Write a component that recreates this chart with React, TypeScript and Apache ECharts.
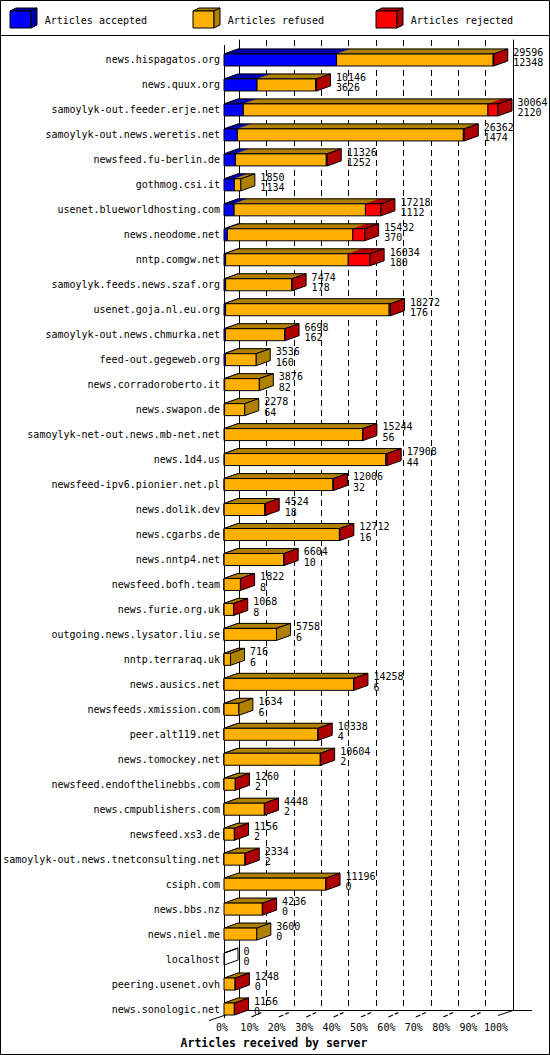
import React, { useEffect, useRef } from 'react';
import * as echarts from 'echarts';

const HOSTS = [
  'news.hispagatos.org', 'news.quux.org', 'samoylyk-out.feeder.erje.net', 'samoylyk-out.news.weretis.net',
  'newsfeed.fu-berlin.de', 'gothmog.csi.it', 'usenet.blueworldhosting.com', 'news.neodome.net',
  'nntp.comgw.net', 'samoylyk.feeds.news.szaf.org', 'usenet.goja.nl.eu.org', 'samoylyk-out.news.chmurka.net',
  'feed-out.gegeweb.org', 'news.corradoroberto.it', 'news.swapon.de', 'samoylyk-net-out.news.mb-net.net',
  'news.1d4.us', 'newsfeed-ipv6.pionier.net.pl', 'news.dolik.dev', 'news.cgarbs.de',
  'news.nntp4.net', 'newsfeed.bofh.team', 'news.furie.org.uk', 'outgoing.news.lysator.liu.se',
  'nntp.terraraq.uk', 'news.ausics.net', 'newsfeeds.xmission.com', 'peer.alt119.net',
  'news.tomockey.net', 'newsfeed.endofthelinebbs.com', 'news.cmpublishers.com', 'newsfeed.xs3.de',
  'samoylyk-out.news.tnetconsulting.net', 'csiph.com', 'news.bbs.nz', 'news.niel.me',
  'localhost', 'peering.usenet.ovh', 'news.sonologic.net',
];

// total articles offered (upper label)
const OFFERED = [
  29596, 10146, 30064, 26362, 11326, 1850, 17218, 15432, 16034, 7474, 18272, 6698, 3536, 3876, 2278, 15244,
  17908, 12006, 4524, 12712, 6604, 1822, 1068, 5758, 716, 14258, 1634, 10338, 10604, 1260, 4448, 1156,
  2334, 11196, 4236, 3600, 0, 1248, 1156,
];

// articles accepted (lower label)
const ACCEPTED = [
  12348, 3626, 2120, 1474, 1252, 1134, 1112, 370, 180, 178, 176, 162, 160, 82, 64, 56,
  44, 32, 18, 16, 10, 8, 8, 6, 6, 6, 6, 4, 2, 2, 2, 2,
  2, 0, 0, 0, 0, 0, 0,
];

// articles rejected (estimated from the bars)
const REJECTED = [
  60, 100, 1100, 100, 100, 0, 1700, 1300, 2400, 50, 150, 50, 0, 0, 0, 50,
  150, 50, 30, 50, 30, 20, 20, 0, 0, 50, 0, 40, 40, 20, 20, 20,
  20, 50, 30, 0, 0, 20, 20,
];

const LEGEND = ['Articles accepted', 'Articles refused', 'Articles rejected'];
const X_TITLE = 'Articles received by server';
const TICK_STEPS = [0, 1, 2, 3, 4, 5, 6, 7, 8, 9, 10];

const FONT = '"DejaVu Sans Mono", "Liberation Mono", monospace';
const FRONT = ['#0000ff', '#ffb000', '#ff0000'];
const DARK = ['#0000b0', '#b08000', '#b00000'];
const MAX = Math.max(...OFFERED);

const DX = 14;
const DY = 5;
const HALF = 6;

function legendGraphic() {
  return LEGEND.map((name, k) => ({
    type: 'group',
    x: 10 + 183 * k,
    y: 0,
    silent: true,
    children: [
      { type: 'polygon', shape: { points: [[0, 11], [6, 8], [27, 8], [21, 11]] }, style: { fill: DARK[k], stroke: '#000', lineWidth: 1 } },
      { type: 'rect', shape: { x: 0, y: 11, width: 21, height: 17 }, style: { fill: FRONT[k], stroke: '#000', lineWidth: 1 } },
      { type: 'polygon', shape: { points: [[21, 11], [27, 8], [27, 25], [21, 28]] }, style: { fill: DARK[k], stroke: '#000', lineWidth: 1 } },
      {
        type: 'text', x: 34.7, y: 20,
        style: { text: name, font: `10px ${FONT}`, fill: '#000', textAlign: 'left', textVerticalAlign: 'middle', align: 'left', verticalAlign: 'middle' },
      },
    ],
  }));
}

export default function App() {
  const ref = useRef<HTMLDivElement>(null);
  useEffect(() => {
    if (!ref.current) return;
    const chart = echarts.init(ref.current, null, { renderer: 'svg' });

    const barData = HOSTS.map((h, i) => [OFFERED[i], i, ACCEPTED[i], REJECTED[i]]);

    const renderBar = (params: any, api: any) => {
      const tot = api.value(0) as number;
      const i = api.value(1) as number;
      const acc = api.value(2) as number;
      const rej = api.value(3) as number;
      const segs = [acc, tot - acc - rej, rej];
      const p0 = api.coord([0, i]);
      const x0 = p0[0];
      const cy = p0[1];
      const yT = cy - HALF;
      const yB = cy + HALF;
      const edges: { xa: number; xb: number; k: number }[] = [];
      let cum = 0;
      segs.forEach((v, k) => {
        if (v <= 0) return;
        const xa = api.coord([cum, i])[0];
        cum += v;
        const xb = api.coord([cum, i])[0];
        edges.push({ xa, xb, k });
      });
      const xe = api.coord([tot, i])[0];
      const children: any[] = [];
      edges.forEach((e) => {
        children.push({
          type: 'polygon',
          shape: { points: [[e.xa, yT], [e.xb, yT], [e.xb + DX, yT - DY], [e.xa + DX, yT - DY]] },
          style: { fill: DARK[e.k], stroke: DARK[e.k], lineWidth: 0.5 },
        });
      });
      children.push({
        type: 'polygon',
        shape: { points: [[x0, yT], [x0 + DX, yT - DY], [xe + DX, yT - DY], [xe, yT]] },
        style: { fill: 'none', stroke: '#000', lineWidth: 1 },
      });
      edges.forEach((e) => {
        children.push({
          type: 'rect',
          shape: { x: e.xa, y: yT, width: e.xb - e.xa, height: yB - yT },
          style: { fill: FRONT[e.k], stroke: '#000', lineWidth: 1 },
        });
      });
      const last = edges.length ? edges[edges.length - 1].k : -1;
      children.push({
        type: 'polygon',
        shape: { points: [[xe, yT], [xe + DX, yT - DY], [xe + DX, yB - DY], [xe, yB]] },
        style: { fill: last >= 0 ? DARK[last] : 'none', stroke: '#000', lineWidth: 1 },
      });
      const ts = { font: `10px ${FONT}`, fill: '#000', textAlign: 'left', textVerticalAlign: 'middle', align: 'left', verticalAlign: 'middle' };
      children.push({ type: 'text', x: xe + 19.5, y: cy - 7.7, style: { ...ts, text: String(tot) } });
      children.push({ type: 'text', x: xe + 19.5, y: cy + 2.7, style: { ...ts, text: String(acc) } });
      return { type: 'group', children };
    };

    const renderTick = (params: any, api: any) => {
      const step = api.value(0) as number;
      const x = api.coord([step * MAX / 10, 0])[0];
      if (step === 0) {
        return { type: 'line', shape: { x1: x - 15, y1: 1020.5, x2: x + 15, y2: 1010.5 }, style: { stroke: '#000', lineWidth: 1 } };
      }
      if (step === 10) {
        return { type: 'line', shape: { x1: x, y1: 1015.5, x2: x + 15, y2: 1010.5 }, style: { stroke: '#000', lineWidth: 1 } };
      }
      return {
        type: 'line',
        shape: { x1: x, y1: 1017, x2: x + 10, y2: 1012.5 },
        style: { stroke: '#000', lineWidth: 1.2, lineDash: [5, 2] },
      };
    };

    const option: any = {
      animation: false,
      backgroundColor: '#ffffff',
      grid: [
        { left: 224, top: 47.5, width: 274, height: 974, outerBoundsMode: 'none', containLabel: false },
        { left: 239, top: 40, width: 274, height: 970, outerBoundsMode: 'none', containLabel: false },
      ],
      xAxis: [
        {
          gridIndex: 0, type: 'value', min: 0, max: MAX, interval: MAX / 10,
          axisLine: { show: false }, axisTick: { show: false }, splitLine: { show: false },
          axisLabel: {
            show: true, margin: 6, color: '#000', fontFamily: FONT, fontSize: 10, verticalAlign: 'middle',
            padding: [0, 4, 0, 0],
            formatter: (v: number) => Math.round((v / MAX) * 100) + '%',
          },
        },
        {
          gridIndex: 1, type: 'value', min: 0, max: MAX, interval: MAX / 10,
          axisLine: { show: true, lineStyle: { color: '#000', width: 1 } },
          axisTick: { show: false }, axisLabel: { show: false },
          splitLine: { show: true, showMinLine: false, showMaxLine: false, lineStyle: { color: '#000', width: 1, type: [6, 4] } },
        },
      ],
      yAxis: [
        {
          gridIndex: 0, type: 'category', inverse: true, data: HOSTS,
          axisLine: { show: false }, axisTick: { show: false }, splitLine: { show: false },
          axisLabel: { margin: 4, color: '#000', fontFamily: FONT, fontSize: 10, interval: 0 },
        },
        {
          gridIndex: 1, type: 'value', min: 0, max: 1, position: 'left',
          axisLine: { show: true, lineStyle: { color: '#000', width: 1 } },
          axisTick: { show: false }, axisLabel: { show: false }, splitLine: { show: false },
        },
        {
          gridIndex: 1, type: 'value', min: 0, max: 1, position: 'right',
          axisLine: { show: true, lineStyle: { color: '#000', width: 1 } },
          axisTick: { show: false }, axisLabel: { show: false }, splitLine: { show: false },
        },
      ],
      series: [
        {
          type: 'custom', name: 'bars', xAxisIndex: 0, yAxisIndex: 0, clip: false, silent: true,
          encode: { x: 0, y: 1 },
          renderItem: renderBar,
          data: barData,
          z: 5,
        },
        {
          type: 'custom', name: 'ticks', xAxisIndex: 0, yAxisIndex: 0, clip: false, silent: true,
          encode: { x: 0 },
          renderItem: renderTick,
          data: TICK_STEPS.map((s) => [s]),
          z: 4,
        },
      ],
      graphic: [
        { type: 'rect', silent: true, shape: { x: 0.5, y: 0.5, width: 549, height: 1054 }, style: { fill: 'none', stroke: '#000', lineWidth: 1 } },
        { type: 'line', silent: true, shape: { x1: 0, y1: 35.5, x2: 550, y2: 35.5 }, style: { stroke: '#000', lineWidth: 1 } },
        { type: 'line', silent: true, shape: { x1: 224.5, y1: 45, x2: 224.5, y2: 1018 }, style: { stroke: '#000', lineWidth: 1 } },
        { type: 'line', silent: true, shape: { x1: 513, y1: 1010.5, x2: 532, y2: 1010.5 }, style: { stroke: '#000', lineWidth: 1 } },
        ...legendGraphic(),
        {
          type: 'text', silent: true, x: 274, y: 1043,
          style: { text: X_TITLE, font: `bold 11.5px ${FONT}`, fill: '#000', textAlign: 'center', textVerticalAlign: 'middle', align: 'center', verticalAlign: 'middle' },
        },
      ],
    };

    chart.setOption(option);
    return () => chart.dispose();
  }, []);

  return (
    <div
      ref={ref}
      style={{ position: 'absolute', left: 0, top: 0, width: 550, height: 1055, background: '#fff' }}
    />
  );
}
